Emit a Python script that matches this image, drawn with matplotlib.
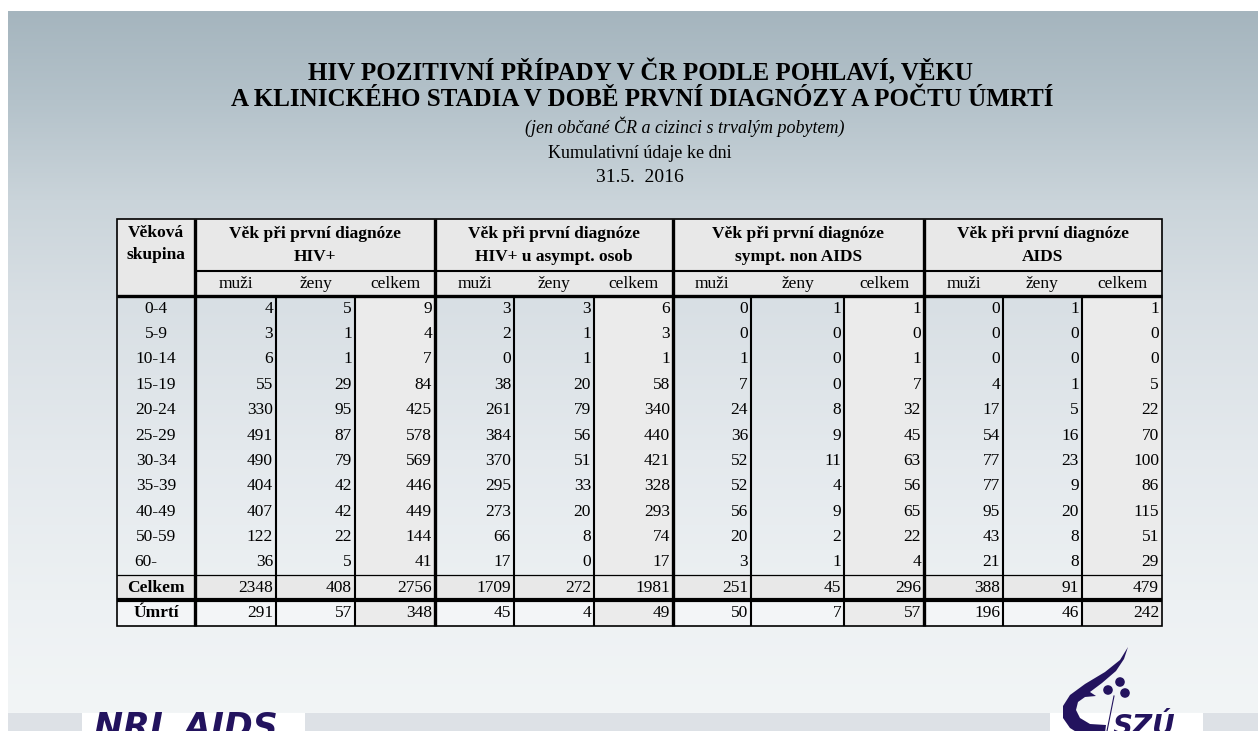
import numpy as np
import matplotlib
matplotlib.use("Agg")
import matplotlib.pyplot as plt
from matplotlib.patches import Rectangle, Polygon, Circle

#--------------- Data ---------------------
title_1 = "HIV POZITIVNÍ PŘÍPADY V ČR PODLE POHLAVÍ, VĚKU"
title_2 = "A KLINICKÉHO STADIA V DOBĚ PRVNÍ DIAGNÓZY A POČTU ÚMRTÍ"
subtitle = "(jen občané ČR a cizinci s trvalým pobytem)"
note_1 = "Kumulativní údaje ke dni"
note_2 = "31.5.  2016"

group_labels = [("Věk při první diagnóze", "HIV+"),
                ("Věk při první diagnóze", "HIV+ u asympt. osob"),
                ("Věk při první diagnóze", "sympt. non AIDS"),
                ("Věk při první diagnóze", "AIDS")]
sub_labels = ["muži", "ženy", "celkem"]

age_groups = ["0-4", "5-9", "10-14", "15-19", "20-24", "25-29",
              "30-34", "35-39", "40-49", "50-59", "60-"]

hiv_muzi = [4, 3, 6, 55, 330, 491, 490, 404, 407, 122, 36]
hiv_zeny = [5, 1, 1, 29, 95, 87, 79, 42, 42, 22, 5]
hiv_celkem = [9, 4, 7, 84, 425, 578, 569, 446, 449, 144, 41]

asy_muzi = [3, 2, 0, 38, 261, 384, 370, 295, 273, 66, 17]
asy_zeny = [3, 1, 1, 20, 79, 56, 51, 33, 20, 8, 0]
asy_celkem = [6, 3, 1, 58, 340, 440, 421, 328, 293, 74, 17]

sym_muzi = [0, 0, 1, 7, 24, 36, 52, 52, 56, 20, 3]
sym_zeny = [1, 0, 0, 0, 8, 9, 11, 4, 9, 2, 1]
sym_celkem = [1, 0, 1, 7, 32, 45, 63, 56, 65, 22, 4]

aids_muzi = [0, 0, 0, 4, 17, 54, 77, 77, 95, 43, 21]
aids_zeny = [1, 0, 0, 1, 5, 16, 23, 9, 20, 8, 8]
aids_celkem = [1, 0, 0, 5, 22, 70, 100, 86, 115, 51, 29]

celkem_row = [2348, 408, 2756, 1709, 272, 1981, 251, 45, 296, 388, 91, 479]
umrti_row = [291, 57, 348, 45, 4, 49, 50, 7, 57, 196, 46, 242]

columns = [hiv_muzi, hiv_zeny, hiv_celkem, asy_muzi, asy_zeny, asy_celkem,
           sym_muzi, sym_zeny, sym_celkem, aids_muzi, aids_zeny, aids_celkem]

#--------------- Layout (pixels) ---------------------
W, H = 1258, 731
x_edges = [117, 195, 276, 355, 435, 514, 594, 673, 751, 844, 924, 1003, 1082, 1162]
y_top, y_grp, y_head = 219, 271, 296
row_h = (575 - y_head) / len(age_groups)
y_celk, y_umr, y_bot = 575, 600, 626

SERIF = "Liberation Serif"
NAVY = "#23135e"
GRAY = "#e8e8e8"
FS = 12.5

fig = plt.figure(figsize=(W / 100, H / 100), dpi=100)
ax = fig.add_axes([0, 0, 1, 1])
ax.set_xlim(0, W)
ax.set_ylim(H, 0)
ax.axis("off")

## pozadí s přechodem
stops_y = [11, 100, 200, 300, 450, 600, 712]
stops_c = np.array([[165, 181, 190], [180, 194, 202], [202, 212, 218],
                    [216, 223, 228], [228, 233, 237], [237, 241, 243],
                    [242, 245, 246]]) / 255
yy = np.arange(H)
bg = np.ones((H, W, 3))
grad = np.stack([np.interp(yy, stops_y, stops_c[:, k]) for k in range(3)], axis=1)
bg[:, :, :] = grad[:, None, :]
bg[:11, :, :] = 1.0
bg[:, :8, :] = 1.0
bg[713:, 8:, :] = np.array([221, 225, 230]) / 255
bg[713:, 82:305, :] = 1.0
bg[713:, 1050:1203, :] = 1.0
ax.imshow(bg, extent=(0, W, H, 0), aspect="auto", zorder=0)

## nadpisy
ax.text(640, 72, title_1, ha="center", va="center", fontsize=18,
        fontweight="bold", family=SERIF)
ax.text(642, 100, title_2, ha="center", va="center", fontsize=18,
        fontweight="bold", family=SERIF)
ax.text(685, 127, subtitle, ha="center", va="center", fontsize=13,
        style="italic", family=SERIF)
ax.text(640, 153, note_1, ha="center", va="center", fontsize=13, family=SERIF)
ax.text(640, 178, note_2, ha="center", va="center", fontsize=14, family=SERIF)

#--------------- Tabulka ---------------------
## výplně
ax.add_patch(Rectangle((x_edges[0], y_top), x_edges[-1] - x_edges[0], y_head - y_top,
                       facecolor=GRAY, edgecolor="none", zorder=1))
ax.add_patch(Rectangle((x_edges[0], y_celk), x_edges[-1] - x_edges[0], y_umr - y_celk,
                       facecolor=GRAY, edgecolor="none", zorder=1))
ax.add_patch(Rectangle((x_edges[0], y_umr), x_edges[-1] - x_edges[0], y_bot - y_umr,
                       facecolor="#f3f5f7", edgecolor="none", zorder=1))
for g in range(4):
    xc0 = x_edges[3 + 3 * g]
    xc1 = x_edges[4 + 3 * g]
    ax.add_patch(Rectangle((xc0, y_head), xc1 - xc0, y_bot - y_head,
                           facecolor="#ebebeb", edgecolor="none", zorder=1))

## čáry
lk = dict(color="black", zorder=3, solid_capstyle="butt")
ax.add_patch(Rectangle((x_edges[0], y_top), x_edges[-1] - x_edges[0], y_bot - y_top,
                       facecolor="none", edgecolor="black", lw=1.2, zorder=3))
ax.plot([x_edges[1], x_edges[-1]], [y_grp, y_grp], lw=1.5, **lk)
ax.plot([x_edges[0], x_edges[-1]], [y_head, y_head], lw=2.4, **lk)
ax.plot([x_edges[0], x_edges[-1]], [y_celk, y_celk], lw=0.9, **lk)
ax.plot([x_edges[0], x_edges[-1]], [y_umr, y_umr], lw=3.0, **lk)
for i in (1, 4, 7, 10):
    ax.plot([x_edges[i], x_edges[i]], [y_top, y_bot], lw=2.4, **lk)
for i in (2, 3, 5, 6, 8, 9, 11, 12):
    ax.plot([x_edges[i], x_edges[i]], [y_head, y_bot], lw=1.5, **lk)

## hlavička
xa = (x_edges[0] + x_edges[1]) / 2
ax.text(xa, 233, "Věková", ha="center", va="center", fontsize=FS,
        fontweight="bold", family=SERIF, zorder=4)
ax.text(xa, 255, "skupina", ha="center", va="center", fontsize=FS,
        fontweight="bold", family=SERIF, zorder=4)
for g, (l1, l2) in enumerate(group_labels):
    xg = (x_edges[1 + 3 * g] + x_edges[4 + 3 * g]) / 2
    ax.text(xg, 234, l1, ha="center", va="center", fontsize=FS,
            fontweight="bold", family=SERIF, zorder=4)
    ax.text(xg, 257, l2, ha="center", va="center", fontsize=FS,
            fontweight="bold", family=SERIF, zorder=4)
    for k, lab in enumerate(sub_labels):
        xs = (x_edges[1 + 3 * g + k] + x_edges[2 + 3 * g + k]) / 2
        ax.text(xs, 284, lab, ha="center", va="center", fontsize=FS,
                family=SERIF, zorder=4)

## data
for r, age in enumerate(age_groups):
    yc = y_head + row_h * (r + 0.5)
    xl = xa - 10 if age == "60-" else xa
    ax.text(xl, yc, age, ha="center", va="center", fontsize=FS,
            family=SERIF, zorder=4)
    for c, col in enumerate(columns):
        ax.text(x_edges[c + 2] - 3, yc, str(col[r]), ha="right", va="center",
                fontsize=FS, family=SERIF, zorder=4)

yc = (y_celk + y_umr) / 2
ax.text(xa, yc, "Celkem", ha="center", va="center", fontsize=FS,
        fontweight="bold", family=SERIF, zorder=4)
for c, v in enumerate(celkem_row):
    ax.text(x_edges[c + 2] - 3, yc, str(v), ha="right", va="center",
            fontsize=FS, family=SERIF, zorder=4)
yc = (y_umr + y_bot) / 2
ax.text(xa, yc, "Úmrtí", ha="center", va="center", fontsize=FS,
        fontweight="bold", family=SERIF, zorder=4)
for c, v in enumerate(umrti_row):
    ax.text(x_edges[c + 2] - 3, yc, str(v), ha="right", va="center",
            fontsize=FS, family=SERIF, zorder=4)

#--------------- Loga ---------------------
ax.text(94, 711, "NRL AIDS", ha="left", va="top", fontsize=25, color=NAVY,
        fontweight="bold", style="italic", family="DejaVu Sans", zorder=4)

swoosh = [(1128, 647), (1120, 660), (1105, 672), (1085, 684), (1070, 695),
          (1063, 706), (1063, 718), (1070, 728), (1078, 733), (1105, 733),
          (1106, 725), (1090, 724), (1080, 718), (1076, 710), (1078, 702),
          (1085, 697), (1096, 696), (1090, 692), (1102, 683), (1116, 671),
          (1124, 659)]
ax.add_patch(Polygon(swoosh, closed=True, facecolor=NAVY, edgecolor="none", zorder=4))
for cx, cy in [(1120, 682), (1108, 690), (1125, 693)]:
    ax.add_patch(Circle((cx, cy), 4.8, facecolor=NAVY, edgecolor="none", zorder=4))
ax.plot([1114, 1107], [696, 731], color=NAVY, lw=0.8, zorder=4)
ax.text(1113, 713, "SZÚ", ha="left", va="top", fontsize=20, color=NAVY,
        fontweight="bold", style="italic", family="DejaVu Sans", zorder=4)

fig.savefig("out.png", dpi=100)
